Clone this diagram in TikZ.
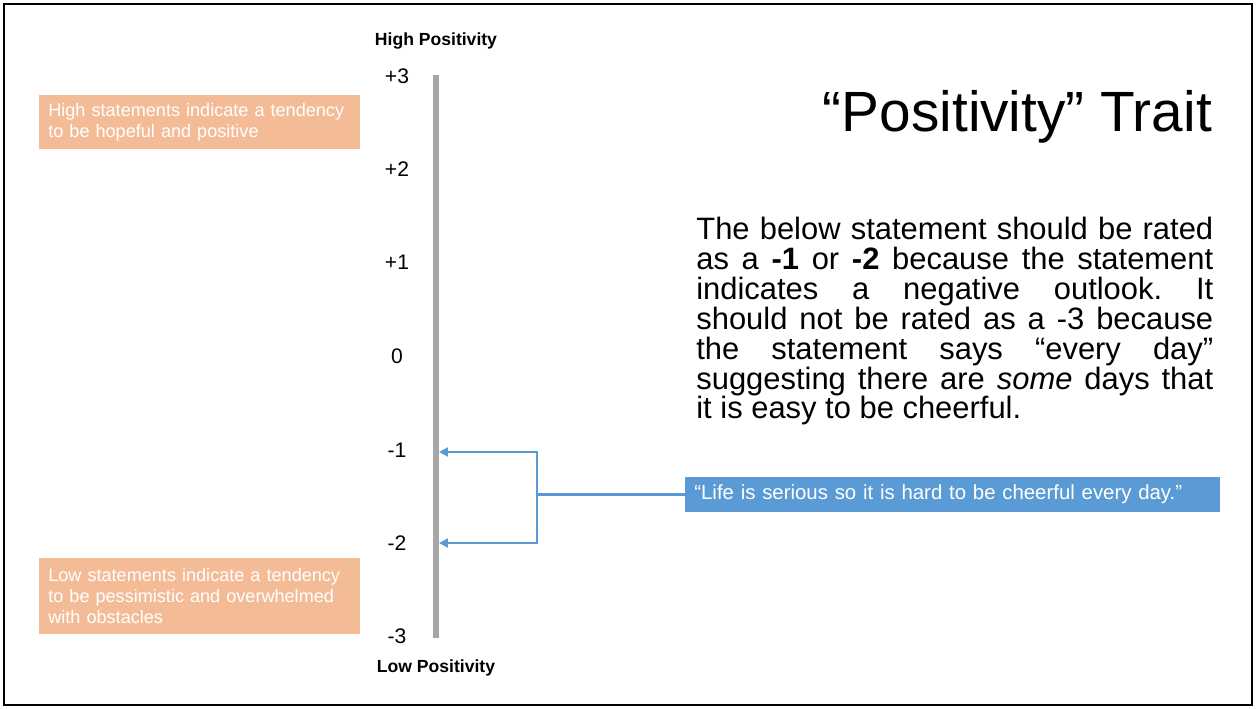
\documentclass[tikz,border=0pt]{standalone}
\usepackage{fontspec}
\setmainfont{Liberation Sans}
\usepackage{tikz}
\usetikzlibrary{arrows.meta, positioning}

\definecolor{notepeach}{RGB}{244,188,150}
\definecolor{linkblue}{RGB}{91,155,213}
\definecolor{axisgray}{RGB}{166,166,166}

\begin{document}
\begin{tikzpicture}[x=0.02cm, y=-0.02cm,
    tick/.style={font=\fontsize{12}{14}\selectfont},
    pole/.style={font=\bfseries\fontsize{10}{12}\selectfont},
    note/.style={fill=notepeach, text=white, align=left, anchor=north west, minimum width=6.42cm, text width=6.06cm, inner xsep=0.18cm, inner ysep=0cm, font=\fontsize{10.3}{11.9}\selectfont},
    link/.style={draw=linkblue, line width=1.5pt}]

    \useasboundingbox (0,0) rectangle (1257,708);
    \draw[line width=1.1pt] (4,4) rectangle (1252,705);

    % Scale: axis and its values
    \coordinate (axistop) at (436,75);
    \coordinate (axisbottom) at (436,638);
    \draw[axisgray, line width=2.9pt] (axistop) -- (axisbottom);
    \node[pole] (high) at (436,41) {High Positivity};
    \node[pole] (low) at (436,668) {Low Positivity};
    \foreach \val/\ypos/\tag in {+3/76/pthree, +2/169.3/ptwo, +1/262.7/pone, 0/356/zero, -1/450.5/mone, -2/543/mtwo, -3/636/mthree}
        \node[tick] (\tag) at (397,\ypos) {\val};

    % Notes about the two ends
    \node[note, minimum height=1.08cm] (highnote) at (39,95) {High statements indicate a tendency\\to be hopeful and positive};
    \node[note, minimum height=1.52cm] (lownote) at (39,558) {Low statements indicate a tendency\\to be pessimistic and overwhelmed\\with obstacles};

    % Title and explanation
    \node[anchor=base east, font=\fontsize{32.3}{38}\selectfont] (title) at (1218,131) {“Positivity” Trait};
    \node[anchor=north west, inner sep=0pt, text width=10.34cm, align=justify, font=\fontsize{17.6}{17}\selectfont] (explain) at (696,217) {\tolerance=10000 \frenchspacing The below statement should be rated\linebreak as a \textbf{-1} or \textbf{-2} because the statement\linebreak indicates a negative outlook. It\linebreak should not be rated as a -3 because\linebreak the statement says “every day”\linebreak suggesting there are \textit{some} days that\linebreak it is easy to be cheerful.};

    % Example statement and where it goes
    \node[fill=linkblue, text=white, anchor=west, minimum height=0.70cm, text width=10.34cm, inner xsep=0.18cm, align=left, font=\fontsize{11.6}{13}\selectfont] (quote) at (685,494.5) {“Life is serious so it is hard to be cheerful every day.”};
    \coordinate (fork) at (537,494.5);
    \coordinate (hitone) at (439,452);
    \coordinate (hittwo) at (439,543);
    \draw[link] (quote.west) -- (fork);
    \draw[link, -{Triangle[length=5pt, width=5pt]}] (fork) |- (hitone);
    \draw[link, -{Triangle[length=5pt, width=5pt]}] (fork) |- (hittwo);

\end{tikzpicture}
\end{document}
